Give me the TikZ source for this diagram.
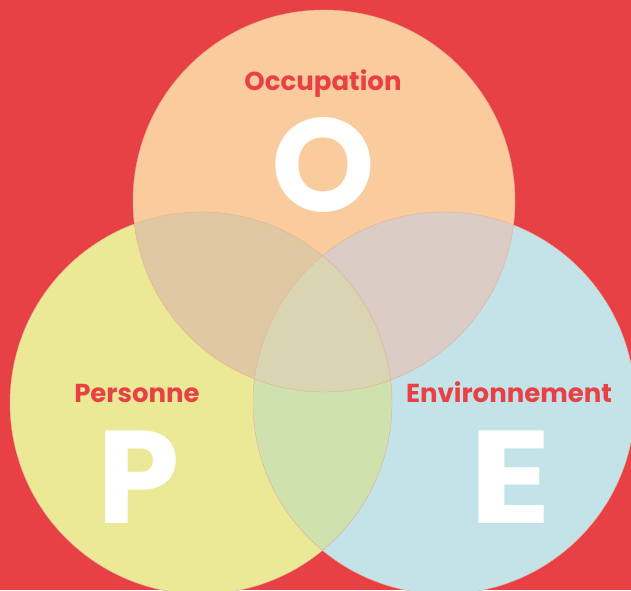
\documentclass[tikz,border=0pt]{standalone}
\usepackage{fontspec}
\setmainfont{Poppins}
\usepackage{tikz}

\definecolor{bgred}{HTML}{E84145}
\definecolor{occ}{HTML}{FACB9D}
\definecolor{pers}{HTML}{EBE995}
\definecolor{env}{HTML}{C3E3E8}
\definecolor{occpers}{HTML}{E0C9A2}
\definecolor{occenv}{HTML}{DCCCC6}
\definecolor{persenv}{HTML}{CFE2AE}
\definecolor{allthree}{HTML}{D9D5B2}
\definecolor{rim}{HTML}{E6AD98}

\begin{document}
\begin{tikzpicture}[%
x=1pt, y=1pt,
label/.style={text=bgred, font=\fontsize{26}{26}\selectfont\bfseries, inner sep=0pt, anchor=base},
letter/.style={text=white, font=\fontsize{132}{132}\selectfont\bfseries, inner sep=0pt, anchor=base},
rimline/.style={draw=rim, line width=0.4pt}
]

\fill[bgred] (0,0) rectangle (631,590);
\useasboundingbox (0,0) rectangle (631,590);
\clip (0,0) rectangle (631,590);

\coordinate (O) at (324,389);
\coordinate (P) at (201,187);
\coordinate (E) at (444,187);
\def\rad{191}

% the three sets
\fill[occ]  (O) circle (\rad);
\fill[pers] (P) circle (\rad);
\fill[env]  (E) circle (\rad);

% pairwise overlaps
\begin{scope}
\clip (O) circle (\rad);
\fill[occpers] (P) circle (\rad);
\fill[occenv]  (E) circle (\rad);
\end{scope}
\begin{scope}
\clip (P) circle (\rad);
\fill[persenv] (E) circle (\rad);
\clip (E) circle (\rad);
\fill[allthree] (O) circle (\rad);
\end{scope}

\draw[rimline] (O) circle (\rad);
\draw[rimline] (P) circle (\rad);
\draw[rimline] (E) circle (\rad);

\node[label]  (occlabel)  at (323,499) {Occupation};
\node[letter] (occletter) at (323,379) {O};
\node[label]  (perslabel) at (137,188) {Personne};
\node[letter] (persletter) at (139,67) {P};
\node[label]  (envlabel)  at (509,188) {Environnement};
\node[letter, xscale=1.15, transform shape] (envletter) at (511,67) {E};

\end{tikzpicture}
\end{document}
